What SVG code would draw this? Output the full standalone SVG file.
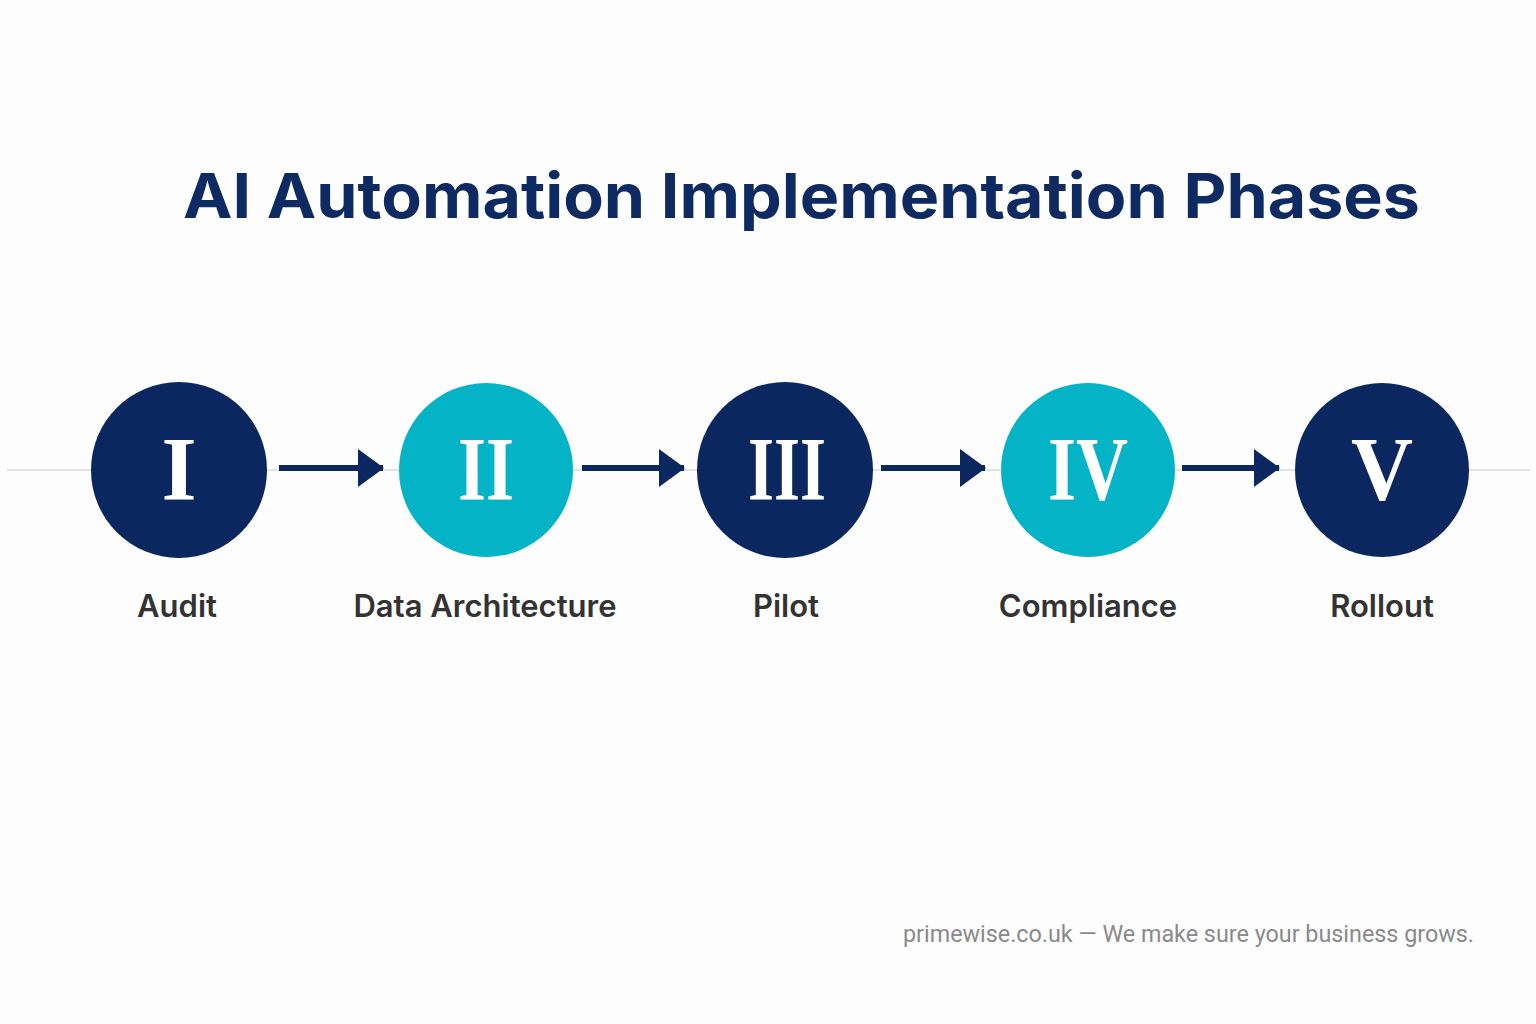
<svg xmlns="http://www.w3.org/2000/svg" width="1536" height="1024" viewBox="0 0 1536 1024">
<defs>
<style>
.title{font-family:Inter,"Liberation Sans",sans-serif;font-weight:700;font-size:62px;fill:#0d2a63}
.num{font-family:"Liberation Serif",serif;font-weight:700;font-size:90px;fill:#ffffff;text-anchor:middle}
.lbl{font-family:Inter,"Liberation Sans",sans-serif;font-weight:600;font-size:31px;fill:#333333;text-anchor:middle}
.navy{fill:#0b2760}
.teal{fill:#05b3c6}
.conn{stroke:#0b2760;stroke-width:6;fill:none}
.foot{font-family:Roboto,"Liberation Sans",sans-serif;font-weight:400;font-size:24px;fill:#8a8a8a}
</style>
<marker id="ah" markerWidth="26" markerHeight="38" refX="25" refY="19" orient="auto" markerUnits="userSpaceOnUse">
<path d="M0,0 L26,19 L0,38 Z" fill="#0b2760"/>
</marker>
</defs>
<rect width="1536" height="1024" fill="#fdfdfd"/>
<text class="title" x="183" y="218" textLength="1237" lengthAdjust="spacingAndGlyphs">AI Automation Implementation Phases</text>
<line x1="7" y1="470" x2="1530" y2="470" stroke="#e2e2e2" stroke-width="2"/>
<g id="connectors">
<line class="conn" x1="279" y1="468" x2="383" y2="468" marker-end="url(#ah)"/>
<line class="conn" x1="582" y1="468" x2="684" y2="468" marker-end="url(#ah)"/>
<line class="conn" x1="881" y1="468" x2="985" y2="468" marker-end="url(#ah)"/>
<line class="conn" x1="1182" y1="468" x2="1279" y2="468" marker-end="url(#ah)"/>
</g>
<g id="node1"><circle class="navy" cx="179" cy="470" r="88"/><text class="num" x="179" y="500">I</text><text class="lbl" x="177" y="617">Audit</text></g>
<g id="node2"><circle class="teal" cx="486" cy="470" r="87"/><text class="num" x="486" y="500" textLength="56" lengthAdjust="spacingAndGlyphs">II</text><text class="lbl" x="485" y="617">Data Architecture</text></g>
<g id="node3"><circle class="navy" cx="785" cy="470" r="88"/><text class="num" x="787" y="500" textLength="78" lengthAdjust="spacingAndGlyphs">III</text><text class="lbl" x="786" y="617">Pilot</text></g>
<g id="node4"><circle class="teal" cx="1088" cy="470" r="87"/><text class="num" x="1088" y="500" textLength="80" lengthAdjust="spacingAndGlyphs">IV</text><text class="lbl" x="1088" y="617">Compliance</text></g>
<g id="node5"><circle class="navy" cx="1382" cy="470" r="87"/><text class="num" x="1382" y="500" textLength="62" lengthAdjust="spacingAndGlyphs">V</text><text class="lbl" x="1382" y="617">Rollout</text></g>
<text class="foot" x="903" y="942" textLength="571" lengthAdjust="spacingAndGlyphs">primewise.co.uk — We make sure your business grows.</text>
</svg>
